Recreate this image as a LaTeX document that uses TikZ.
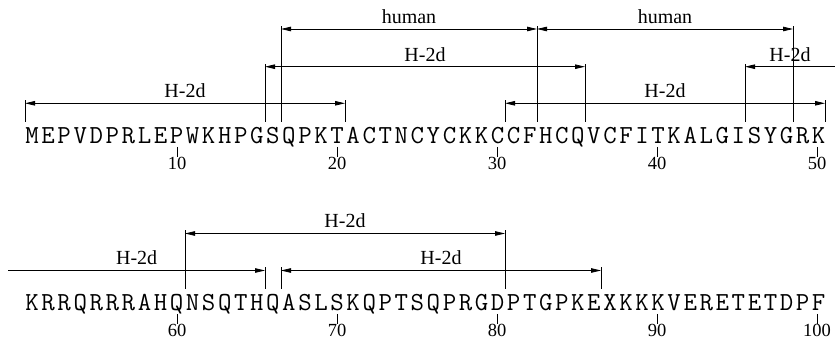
\documentclass[tikz,border=0pt]{standalone}
\usepackage{graphicx}
\usepackage{fontspec}
\setmainfont{Liberation Serif}
\newfontfamily\seqfont[LetterSpace=10]{Latin Modern Mono}
\usetikzlibrary{arrows.meta}

% residues at a fixed pitch of 16pt
\newcommand\residues[1]{\resizebox{800pt}{\height}{#1}}

\begin{document}
\begin{tikzpicture}[x=1pt,y=-1pt,line width=0.8pt,
    >={Triangle[length=10pt,width=4.5pt]},
    seq/.style={anchor=base west,inner sep=0pt,font=\fontsize{26}{30}\seqfont},
    num/.style={anchor=base,inner sep=0pt,font=\fontsize{18.5}{20}\selectfont},
    lab/.style={anchor=base,inner sep=0pt,yshift=5.5pt,font=\fontsize{20}{22}\selectfont},
    bar/.style={shorten >=-3pt}]
  \useasboundingbox (0,0) rectangle (835,344);

  \node[seq] (seq1) at (25,143.5) {\residues{MEPVDPRLEPWKHPGSQPKTACTNCYCKKCCFHCQVCFITKALGISYGRK}};
  \node[seq] (seq2) at (25,310.7) {\residues{KRRQRRRAHQNSQTHQASLSKQPTSQPRGDPTGPKEXKKKVERETETDPF}};

  % residue boundaries, just above the letters
  \foreach \k in {0,...,50} {
    \coordinate (r1-\k) at (25+16*\k,122);
    \coordinate (r2-\k) at (25+16*\k,289);
  }
  \coordinate (lv1) at (0,103.3);
  \coordinate (lv2) at (0,66.7);
  \coordinate (lv3) at (0,29);
  \coordinate (lv4) at (0,270.5);
  \coordinate (lv5) at (0,233.5);
  \coordinate (edge1) at (835,66.7);
  \coordinate (edge2) at (8.3,270.5);

  % ticks every ten residues
  \foreach \i in {1,...,5} {
    \pgfmathtruncatemacro\m{10*\i}
    \pgfmathtruncatemacro\n{10*\i+50}
    \coordinate (k\m) at (17+160*\i,147);
    \coordinate (k\n) at (17+160*\i,314);
    \node[num] (n\m) at (17+160*\i,170) {\m};
    \node[num] (n\n) at (17+160*\i,337) {\n};
    \draw (k\m) -- (n\m.north);
    \draw (k\n) -- (n\n.north);
  }

  % first line
  \draw[<->] (r1-0 |- lv1) -- node[lab] (a1) {H-2d} (r1-20 |- lv1);
  \draw[<->] (r1-30 |- lv1) -- node[lab] (a2) {H-2d} (r1-50 |- lv1);
  \draw[<->] (r1-15 |- lv2) -- node[lab] (a3) {H-2d} (r1-35 |- lv2);
  \draw[<-] (r1-45 |- lv2) -- node[lab] (a4) {H-2d} (edge1);
  \draw[<->] (r1-16 |- lv3) -- node[lab] (a5) {human} (r1-32 |- lv3);
  \draw[<->] (r1-32 |- lv3) -- node[lab] (a6) {human} (r1-48 |- lv3);
  \foreach \k/\l in {0/lv1,20/lv1,30/lv1,50/lv1,15/lv2,35/lv2,45/lv2,16/lv3,32/lv3,48/lv3}
    \draw[bar] (r1-\k) -- (r1-\k |- \l);

  % second line
  \draw[->] (edge2) -- node[lab] (b1) {H-2d} (r2-15 |- lv4);
  \draw[<->] (r2-16 |- lv4) -- node[lab] (b2) {H-2d} (r2-36 |- lv4);
  \draw[<->] (r2-10 |- lv5) -- node[lab] (b3) {H-2d} (r2-30 |- lv5);
  \foreach \k/\l in {15/lv4,16/lv4,36/lv4,10/lv5,30/lv5}
    \draw[bar] (r2-\k) -- (r2-\k |- \l);
\end{tikzpicture}
\end{document}
